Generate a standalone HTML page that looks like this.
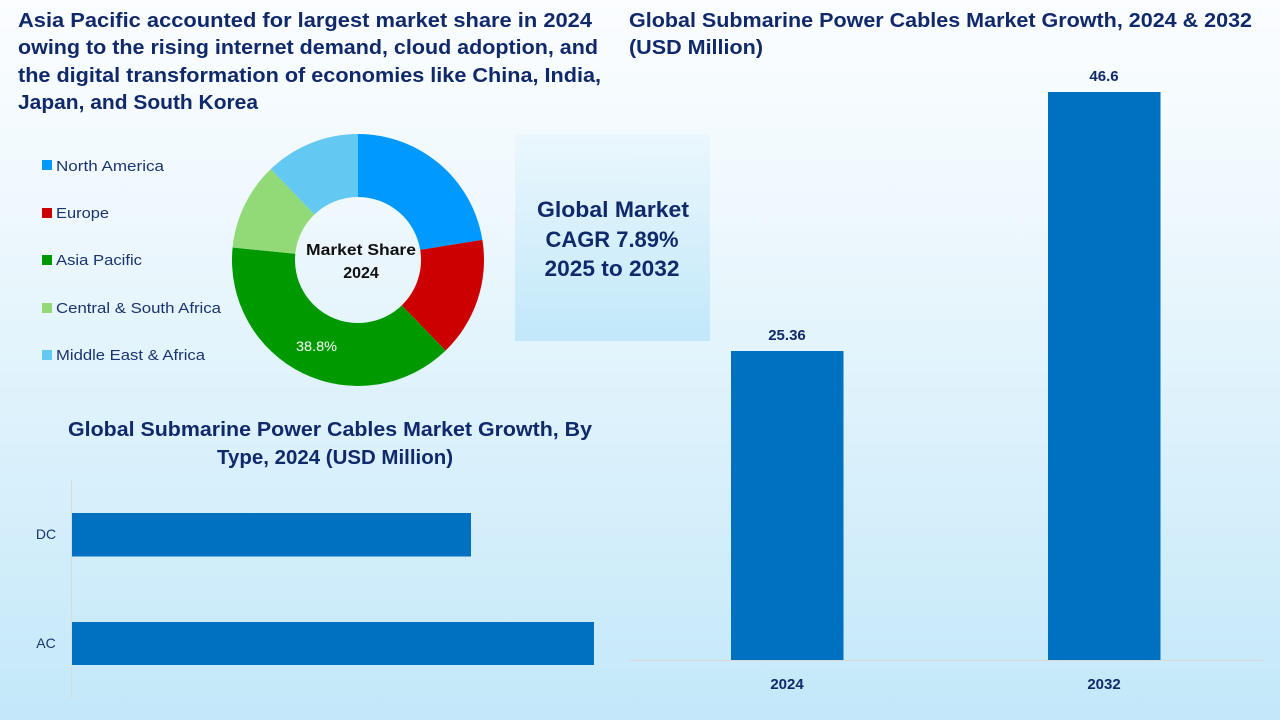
<!DOCTYPE html>
<html>
<head>
<meta charset="utf-8">
<style>
  html,body{margin:0;padding:0;width:1280px;height:720px;overflow:hidden;}
  svg{display:block;}
  text{font-family:"Liberation Sans", Arial, sans-serif;}
</style>
</head>
<body>
<svg width="1280" height="720" viewBox="0 0 1280 720" xmlns="http://www.w3.org/2000/svg">
  <defs>
    <linearGradient id="bg" x1="0" y1="0" x2="0" y2="1">
      <stop offset="0" stop-color="#fbfdff"/>
      <stop offset="0.3" stop-color="#eef8fd"/>
      <stop offset="1" stop-color="#c3e8f9"/>
    </linearGradient>
    <linearGradient id="box" x1="0" y1="0" x2="0" y2="1">
      <stop offset="0" stop-color="#ebf7fd"/>
      <stop offset="1" stop-color="#c1e8f9"/>
    </linearGradient>
  </defs>
  <rect x="0" y="0" width="1280" height="720" fill="url(#bg)"/>

  <!-- Top-left title -->
  <g fill="#10296b" font-weight="bold" font-size="20">
    <text x="18" y="27" textLength="574" lengthAdjust="spacingAndGlyphs">Asia Pacific accounted for largest market share in 2024</text>
    <text x="18" y="54" textLength="580" lengthAdjust="spacingAndGlyphs">owing to the rising internet demand, cloud adoption, and</text>
    <text x="18" y="82" textLength="583" lengthAdjust="spacingAndGlyphs">the digital transformation of economies like China, India,</text>
    <text x="18" y="109" textLength="240" lengthAdjust="spacingAndGlyphs">Japan, and South Korea</text>
  </g>

  <!-- Right title -->
  <g fill="#10296b" font-weight="bold" font-size="20">
    <text x="629" y="27" textLength="623" lengthAdjust="spacingAndGlyphs">Global Submarine Power Cables Market Growth, 2024 &amp; 2032</text>
    <text x="629" y="54" textLength="134" lengthAdjust="spacingAndGlyphs">(USD Million)</text>
  </g>

  <!-- Legend -->
  <g font-size="15" fill="#1a3470">
    <rect x="42" y="160" width="10" height="10" fill="#0099ff"/>
    <text x="56" y="171" textLength="108" lengthAdjust="spacingAndGlyphs">North America</text>
    <rect x="42" y="208" width="10" height="10" fill="#cc0000"/>
    <text x="56" y="218" textLength="53" lengthAdjust="spacingAndGlyphs">Europe</text>
    <rect x="42" y="255" width="10" height="10" fill="#009900"/>
    <text x="56" y="265" textLength="86" lengthAdjust="spacingAndGlyphs">Asia Pacific</text>
    <rect x="42" y="303" width="10" height="10" fill="#92d977"/>
    <text x="56" y="313" textLength="165" lengthAdjust="spacingAndGlyphs">Central &amp; South Africa</text>
    <rect x="42" y="350" width="10" height="10" fill="#63c9f2"/>
    <text x="56" y="360" textLength="149" lengthAdjust="spacingAndGlyphs">Middle East &amp; Africa</text>
  </g>

  <!-- Donut -->
  <path d="M358,134 A126,126 0 0 1 482.38,239.85 L420.19,249.93 A63,63 0 0 0 358,197 Z" fill="#0099ff"/>
  <path d="M482.38,239.85 A126,126 0 0 1 445.53,350.63 L401.77,305.32 A63,63 0 0 0 420.19,249.93 Z" fill="#cc0000"/>
  <path d="M445.53,350.63 A126,126 0 0 1 232.62,247.49 L295.31,253.74 A63,63 0 0 0 401.77,305.32 Z" fill="#009900"/>
  <path d="M232.62,247.49 A126,126 0 0 1 270.8,169.05 L314.4,214.53 A63,63 0 0 0 295.31,253.74 Z" fill="#92d977"/>
  <path d="M270.8,169.05 A126,126 0 0 1 358,134 L358,197 A63,63 0 0 0 314.4,214.53 Z" fill="#63c9f2"/>
  <text x="316.5" y="351" font-size="14" fill="#ffffff" text-anchor="middle" textLength="41" lengthAdjust="spacingAndGlyphs">38.8%</text>
  <g font-weight="bold" font-size="16" fill="#111111" text-anchor="middle">
    <text x="361" y="255" textLength="110" lengthAdjust="spacingAndGlyphs">Market Share</text>
    <text x="361" y="278">2024</text>
  </g>

  <!-- CAGR box -->
  <rect x="515" y="134" width="195" height="207" fill="url(#box)"/>
  <g font-weight="bold" font-size="22" fill="#10296b" text-anchor="middle">
    <text x="613" y="217" textLength="152" lengthAdjust="spacingAndGlyphs">Global Market</text>
    <text x="612" y="247" textLength="133" lengthAdjust="spacingAndGlyphs">CAGR 7.89%</text>
    <text x="612" y="276" textLength="135" lengthAdjust="spacingAndGlyphs">2025 to 2032</text>
  </g>

  <!-- Bottom-left title -->
  <g fill="#10296b" font-weight="bold" font-size="20" text-anchor="middle">
    <text x="330" y="436" textLength="524" lengthAdjust="spacingAndGlyphs">Global Submarine Power Cables Market Growth, By</text>
    <text x="335" y="464" textLength="236" lengthAdjust="spacingAndGlyphs">Type, 2024 (USD Million)</text>
  </g>

  <!-- Horizontal bars -->
  <line x1="71.5" y1="480" x2="71.5" y2="698" stroke="#d9d9d9" stroke-width="1"/>
  <rect x="72" y="513" width="399" height="43.5" fill="#0070c0"/>
  <rect x="72" y="622" width="522" height="43" fill="#0070c0"/>
  <g font-size="14" fill="#1a3470" text-anchor="middle">
    <text x="46" y="539">DC</text>
    <text x="46" y="648">AC</text>
  </g>

  <!-- Vertical bars -->
  <rect x="731" y="351" width="112.5" height="309" fill="#0070c0"/>
  <rect x="1048" y="92" width="112.5" height="568" fill="#0070c0"/>
  <line x1="629" y1="660.5" x2="1263" y2="660.5" stroke="#d9d9d9" stroke-width="1"/>
  <g font-weight="bold" font-size="15" fill="#10296b" text-anchor="middle">
    <text x="787" y="340">25.36</text>
    <text x="1104" y="81">46.6</text>
    <text x="787" y="689">2024</text>
    <text x="1104" y="689">2032</text>
  </g>
</svg>
</body>
</html>
